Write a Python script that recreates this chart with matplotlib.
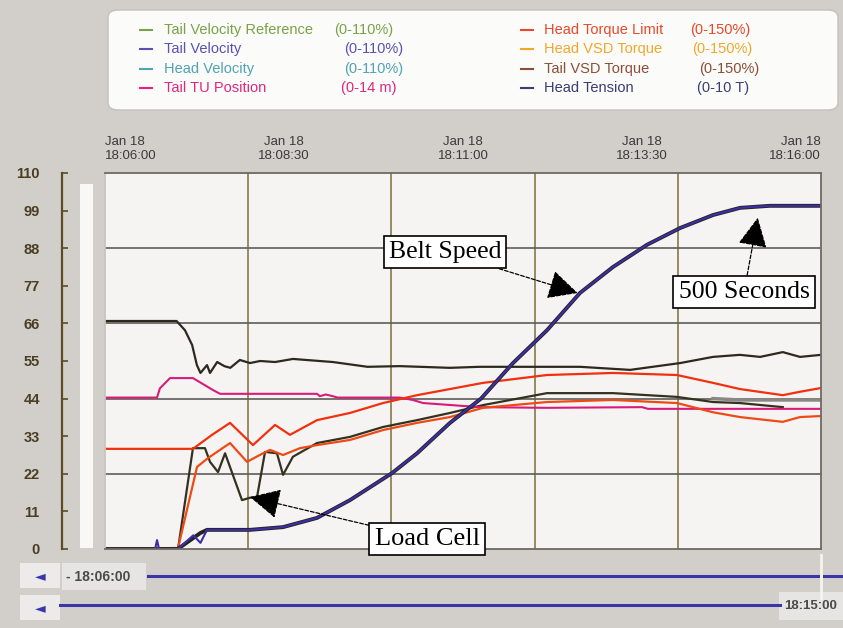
import matplotlib.pyplot as plt
from matplotlib.patches import FancyBboxPatch, Rectangle
from matplotlib.lines import Line2D

plt.rcParams['font.family'] = ['Liberation Sans', 'DejaVu Sans']

W, H = 843, 628


def fx(px):
    return px / W


def fy(py):
    return 1 - py / H


# seconds after 18:06:00 / value on the 0-110 scale
belt_t = [0, 42, 43.6, 45.3, 61, 74, 80, 85.5, 121.5, 149.2, 177.7, 205.3, 240.5, 261.5,
          289.1, 315.1, 341.9, 370.4, 398, 425.7, 454.2, 481.9, 509.5, 532.1, 557, 600]
belt_v = [0, 0, 2.6, 0, 0, 4, 1.8, 5.6, 5.6, 6.4, 9.1, 14.3, 22.2, 28,
          36.9, 44, 54.4, 64, 74.9, 82.5, 89, 93.9, 97.7, 99.8, 100.4, 100.4]

ref_t = [0, 61, 80, 85.5, 121.5, 149.2, 177.7, 205.3, 240.5, 261.5,
         289.1, 315.1, 341.9, 370.4, 398, 425.7, 454.2, 481.9, 509.5, 532.1, 557, 600]
ref_v = [0, 0, 4.7, 5.6, 5.6, 6.4, 9.1, 14.3, 22.2, 28,
         36.9, 44, 54.4, 64, 74.9, 82.5, 89, 93.9, 97.7, 99.8, 100.4, 100.4]

vsd_t = [0, 60, 67, 73, 77, 80, 85.5, 88, 94, 100, 105, 113, 121.5, 130, 142.5,
         157.5, 191, 220, 247, 289, 314, 373, 398, 440, 482, 509.5, 532, 549, 568, 582.4, 600]
vsd_v = [66.7, 66.7, 64, 59.7, 53.8, 51.5, 53.8, 51.5, 54.7, 53.5, 53, 55.3, 54.4, 55, 54.7,
         55.6, 54.7, 53.3, 53.5, 53, 53.3, 53.3, 53.3, 52.4, 54.4, 56.2, 56.8, 56.2, 57.6, 56.2, 56.8]

tu_t = [0, 43.6, 46, 54.5, 73.7, 90.5, 96.4, 177.7, 180, 185, 191, 195, 247, 258,
        266.5, 314, 370, 450, 455, 600]
tu_v = [44.3, 44.3, 47, 50, 50, 46.5, 45.4, 45.4, 44.7, 45.2, 44.7, 44.3, 44.3, 43.6,
        42.7, 41.5, 41.3, 41.5, 41, 41]

lim_t = [0, 73.7, 89.7, 104.8, 124, 142.5, 155, 177.7, 205.3, 233, 261.5, 316.8, 370.4,
         425.7, 479.3, 509.5, 532, 568, 582.4, 600]
lim_v = [29.3, 29.3, 33.4, 36.9, 30.4, 36.3, 33.4, 37.7, 39.8, 42.7, 45, 48.6, 50.9,
         51.5, 50.9, 48.6, 46.8, 45, 46, 47.1]

hvsd_t = [0, 61.2, 77.1, 86.3, 104.8, 119, 132.4, 138.3, 149.2, 163.4, 177.7, 205.3, 233,
          261.5, 289.1, 316.8, 370.4, 425.7, 479.3, 509.5, 532, 568, 582.4, 600]
hvsd_v = [0, 0.3, 24, 26.6, 31, 25.5, 28, 29, 27.5, 29.5, 30.4, 31.9, 34.8,
          36.9, 38.6, 41.3, 43, 43.6, 42.7, 40, 38.6, 37.2, 38.6, 38.9]

load_t = [0, 61.2, 73.7, 83.8, 88, 94.7, 100.6, 114.8, 121.5, 127.4, 134.1, 144.1, 149.2,
          157.5, 177.7, 205.3, 233, 261.5, 289.1, 316.8, 370.4, 425.7, 479.3, 509.5, 532, 568]
load_v = [0, 0, 29.5, 29.5, 25.5, 22.5, 28, 14.3, 15, 15.2, 28.4, 28, 21.7,
          27, 31, 32.8, 35.7, 37.7, 39.8, 42.1, 45.6, 45.6, 44.5, 43, 42.7, 41.5]

grey_t = [509.5, 532, 600]
grey_v = [44, 43.6, 43.6]

time_ticks = [0, 150, 300, 450, 600]
time_labels = ['Jan 18\n18:06:00', 'Jan 18\n18:08:30', 'Jan 18\n18:11:00',
               'Jan 18\n18:13:30', 'Jan 18\n18:16:00']
grid_x = [120, 240, 360, 480]
grid_y = [22, 44, 66, 88]
scale_ticks = [0, 11, 22, 33, 44, 55, 66, 77, 88, 99, 110]

leg_names_l = ['Tail Velocity Reference', 'Tail Velocity', 'Head Velocity', 'Tail TU Position']
leg_ranges_l = ['(0-110%)', '(0-110%)', '(0-110%)', '(0-14 m)']
leg_colors_l = ['#7aa246', '#5b50b4', '#4fa3b3', '#e0267e']
leg_names_r = ['Head Torque Limit', 'Head VSD Torque', 'Tail VSD Torque', 'Head Tension']
leg_ranges_r = ['(0-150%)', '(0-150%)', '(0-150%)', '(0-10 T)']
leg_colors_r = ['#e8482a', '#f0a82a', '#8c4e36', '#3c3c72']

fig = plt.figure(figsize=(W / 100, H / 100), dpi=100)
fig.patch.set_facecolor('#d2cfcb')

# legend panel
fig.patches.append(FancyBboxPatch((fx(108), fy(110)), fx(838) - fx(108), fy(10) - fy(110),
                                  boxstyle='round,pad=0,rounding_size=0.012',
                                  transform=fig.transFigure, facecolor='#fbfbfa',
                                  edgecolor='#c4c0bb', lw=1))
rows_y = [30, 49, 69, 88]
rng_x_l = [334, 344, 344, 341]
rng_x_r = [690, 692, 699, 697]
for i in range(4):
    y = fy(rows_y[i])
    fig.add_artist(Line2D([fx(140), fx(152)], [y, y], color=leg_colors_l[i], lw=1.5))
    fig.text(fx(164), y, leg_names_l[i], color=leg_colors_l[i], fontsize=10.5, va='center')
    fig.text(fx(rng_x_l[i]), y, leg_ranges_l[i], color=leg_colors_l[i], fontsize=10.5, va='center')
    fig.add_artist(Line2D([fx(521), fx(533)], [y, y], color=leg_colors_r[i], lw=1.5))
    fig.text(fx(544), y, leg_names_r[i], color=leg_colors_r[i], fontsize=10.5, va='center')
    fig.text(fx(rng_x_r[i]), y, leg_ranges_r[i], color=leg_colors_r[i], fontsize=10.5, va='center')

# main trend area
ax = fig.add_axes([fx(105), fy(549), fx(821) - fx(105), fy(173) - fy(549)])
ax.set_facecolor('#f6f4f3')
ax.set_xlim(0, 600)
ax.set_ylim(0, 110)

ax.plot(vsd_t, vsd_v, color='#2c2a1e', lw=1.6)
ax.plot(grey_t, grey_v, color='#8a8884', lw=2.5)
ax.plot(load_t, load_v, color='#34321f', lw=1.6)
ax.plot(tu_t, tu_v, color='#d81b7a', lw=1.5)
ax.plot(lim_t, lim_v, color='#f0300f', lw=1.6)
ax.plot(hvsd_t, hvsd_v, color='#ee4a15', lw=1.6)
ax.plot(ref_t, ref_v, color='#26241c', lw=2.8)
ax.plot(belt_t, belt_v, color='#3c2ea8', lw=1.5)

ax.set_xticks(time_ticks)
ax.set_xticklabels(time_labels)
ax.set_xticks(grid_x, minor=True)
ax.set_yticks(grid_y)
ax.set_yticklabels([])
ax.xaxis.tick_top()
ax.tick_params(axis='x', which='both', length=0, pad=8, labelsize=9.5, labelcolor='#3a3a3a')
ax.tick_params(axis='y', length=0)
ax.grid(which='minor', axis='x', color='#857a4e', lw=1.2)
ax.grid(which='major', axis='y', color='#5e5c58', lw=1.2)
ax.grid(which='major', axis='x', visible=False)
ax.set_axisbelow(True)
labels = ax.get_xticklabels()
labels[0].set_ha('left')
labels[0].set_multialignment('left')
labels[-1].set_ha('right')
labels[-1].set_multialignment('right')
for name, sp in ax.spines.items():
    sp.set_color('#6e6a60')
    sp.set_linewidth(1.3)
ax.spines['left'].set_color('#c8c6c2')

# annotations
box = dict(boxstyle='square,pad=0.2', fc='white', ec='black', lw=1.2)
arrow = dict(arrowstyle='-|>,head_length=1.0,head_width=0.5', color='black', lw=0.9,
             ls=(0, (3, 1.5)), shrinkA=0, shrinkB=0)
serif = ['Liberation Serif', 'DejaVu Serif']
ax.annotate('Belt Speed', xy=(396, 74.9), xytext=(285, 86.9), fontsize=18.5, family=serif,
            ha='center', va='center', bbox=box, arrowprops=arrow)
ax.annotate('500 Seconds', xy=(547, 96.9), xytext=(535.5, 75.2), fontsize=18.5, family=serif,
            ha='center', va='center', bbox=box, arrowprops=arrow)
ax.annotate('Load Cell', xy=(121.5, 15.2), xytext=(270, 2.9), fontsize=19, family=serif,
            ha='center', va='center', bbox=box, arrowprops=arrow, annotation_clip=False)

# separate value scale
sc = fig.add_axes([fx(62), fy(549), 0.0005, fy(173) - fy(549)])
sc.set_ylim(0, 110)
sc.set_yticks(scale_ticks)
sc.set_xticks([])
sc.patch.set_visible(False)
for name in ['top', 'right', 'bottom']:
    sc.spines[name].set_visible(False)
sc.spines['left'].set_color('#5c4c22')
sc.spines['left'].set_linewidth(1.6)
sc.tick_params(axis='y', direction='in', length=4, width=1.2, color='#5c4c22', pad=16,
               labelsize=10.5, labelcolor='#4a3e22')
for t in sc.get_yticklabels():
    t.set_fontweight('bold')

# white strip beside the scale
fig.patches.append(Rectangle((fx(80), fy(548)), fx(13), fy(184) - fy(548),
                             transform=fig.transFigure, facecolor='#f8f8f7', edgecolor='none'))

# scroll bars
for top in [563, 595]:
    fig.patches.append(Rectangle((fx(20), fy(top + 25)), fx(40), fy(top) - fy(top + 25),
                                 transform=fig.transFigure, facecolor='#ecebea', edgecolor='none'))
    fig.text(fx(40), fy(top + 13), '\u25c4', color='#3a36a8', fontsize=10, ha='center',
             va='center', family=['DejaVu Sans'])
fig.patches.append(Rectangle((fx(62), fy(590)), fx(84), fy(563) - fy(590),
                             transform=fig.transFigure, facecolor='#e6e5e3', edgecolor='none'))
fig.text(fx(66), fy(577), '- 18:06:00', color='#4a4a4a', fontsize=10, fontweight='bold',
         va='center')
fig.add_artist(Line2D([fx(148), fx(818)], [fy(576), fy(576)], color='#3a36a8', lw=2.2))
fig.add_artist(Line2D([fx(824), fx(843)], [fy(576), fy(576)], color='#3a36a8', lw=2.2))
fig.add_artist(Line2D([fx(821), fx(821)], [fy(555), fy(598)], color='#f4f4f2', lw=2))
fig.add_artist(Line2D([fx(60), fx(780)], [fy(605), fy(605)], color='#3a36a8', lw=2.2))
fig.patches.append(Rectangle((fx(779), fy(620)), fx(64), fy(592) - fy(620),
                             transform=fig.transFigure, facecolor='#e6e5e3', edgecolor='none'))
fig.text(fx(784), fy(606), '18:15:00', color='#4a4a4a', fontsize=9.5, fontweight='bold',
         va='center')

fig.savefig('out.png', dpi=100, facecolor=fig.get_facecolor())
